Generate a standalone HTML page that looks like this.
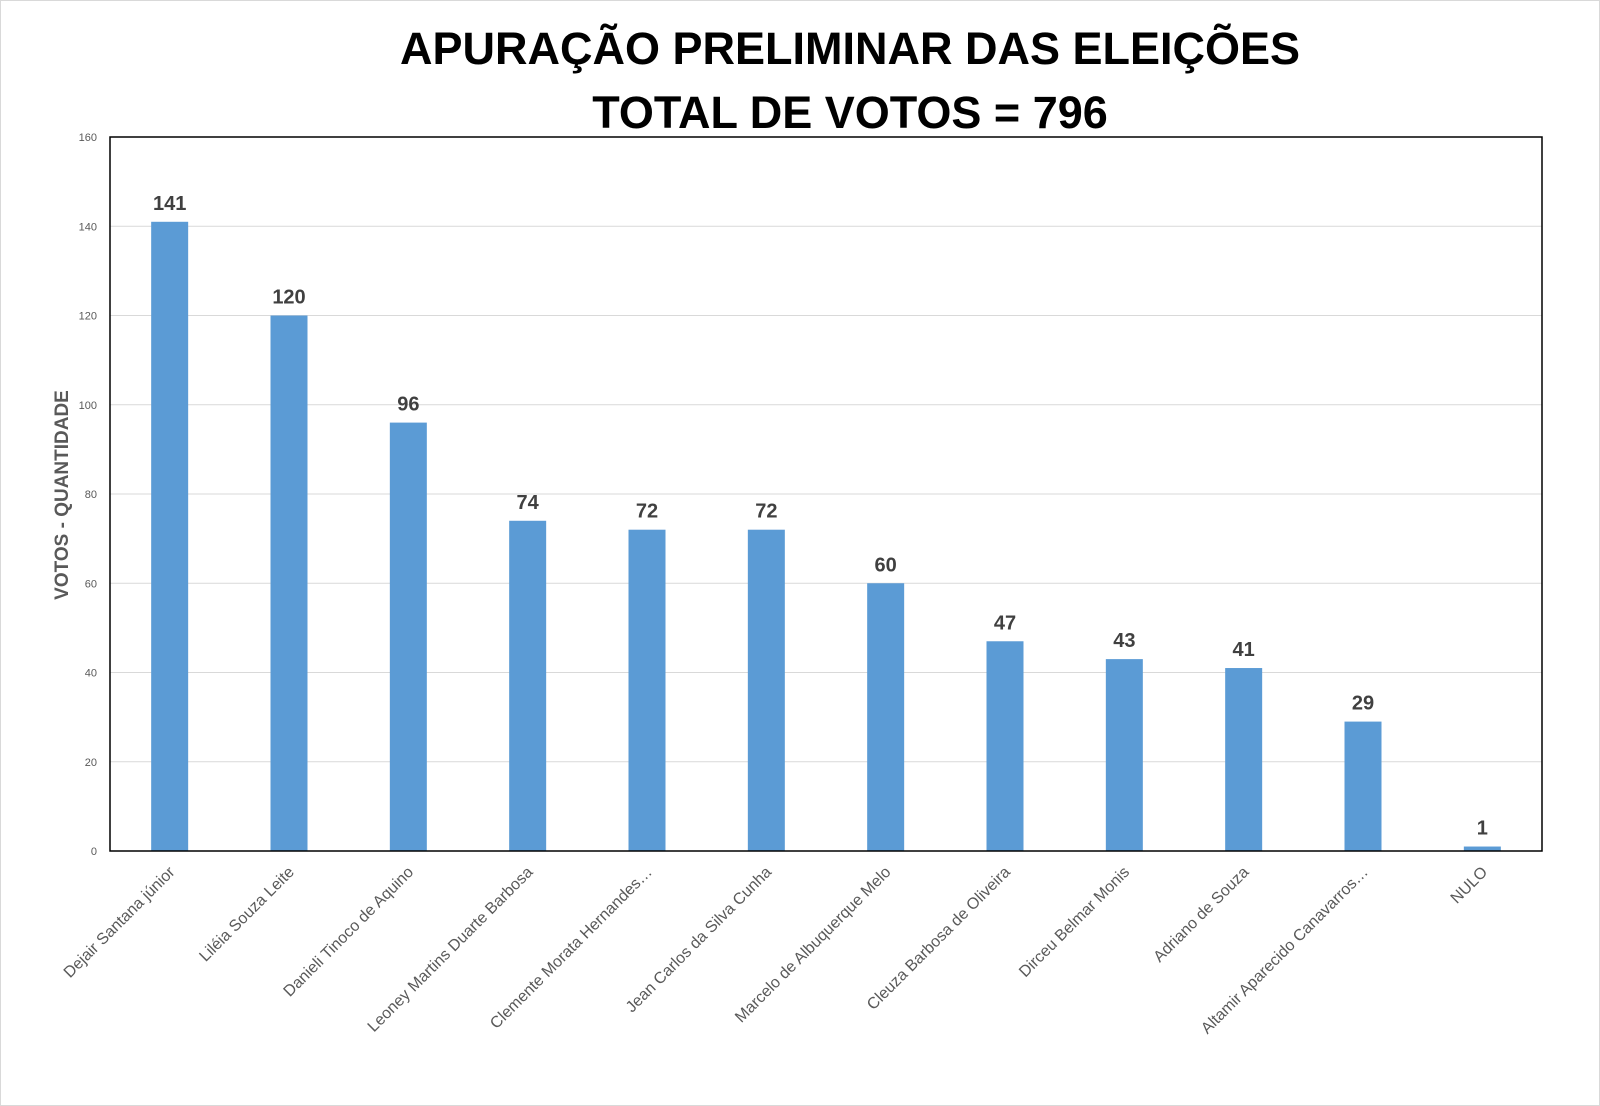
<!DOCTYPE html>
<html><head><meta charset="utf-8"><style>
body{margin:0;background:#fff;}
svg{display:block;font-family:"Liberation Sans",sans-serif;}
</style></head><body>
<svg id="c" width="1600" height="1106">
<rect x="0.5" y="0.5" width="1599" height="1105" fill="#fff" stroke="#d9d9d9"/>
<text x="850" y="64" text-anchor="middle" font-size="45" font-weight="bold" fill="#000">APURAÇÃO PRELIMINAR DAS ELEIÇÕES</text>
<text x="850" y="128" text-anchor="middle" font-size="45" font-weight="bold" fill="#000">TOTAL DE VOTOS = 796</text>
<text transform="translate(68,495) rotate(-90)" text-anchor="middle" font-size="19" font-weight="bold" fill="#595959">VOTOS - QUANTIDADE</text>
<g id="grid"></g><g id="bars"></g>
<rect x="110" y="137" width="1432" height="714" fill="none" stroke="#000" stroke-width="1.5"/>
</svg>
<script>
const categories=["Dejair Santana júnior","Liléia Souza Leite","Danieli Tinoco de Aquino","Leoney Martins Duarte Barbosa","Clemente Morata Hernandes…","Jean Carlos da Silva Cunha","Marcelo de Albuquerque Melo","Cleuza Barbosa de Oliveira","Dirceu Belmar Monis","Adriano de Souza","Altamir Aparecido Canavarros…","NULO"];
const votes=[141,120,96,74,72,72,60,47,43,41,29,1];
const yTicks=[0,20,40,60,80,100,120,140,160];
const NS="http://www.w3.org/2000/svg";
const L=110,R=1542,T=137,B=851,YMAX=160;
const y=v=>B-(v/YMAX)*(B-T);
const band=(R-L)/categories.length;
const x=i=>L+band*(i+0.5);
const g=document.getElementById('grid'),bg=document.getElementById('bars');
function mk(t,a,p){const e=document.createElementNS(NS,t);for(const k in a)e.setAttribute(k,a[k]);p.appendChild(e);return e;}
yTicks.forEach(t=>{
 const ln=mk('line',{x1:L,x2:R,y1:y(t),y2:y(t),stroke:'#d9d9d9','stroke-width':1},g);
 
 
 const tx=mk('text',{x:L-13,y:y(t)+4,'text-anchor':'end','font-size':11,fill:'#595959'},g);
 tx.textContent=t;
 
 
});
const bw=37;
votes.forEach((v,i)=>{
 const r=mk('rect',{x:x(i)-bw/2,y:y(v),width:bw,height:B-y(v),fill:'#5b9bd5'},bg);
 
 
 const t=mk('text',{x:x(i),y:y(v)-12,'text-anchor':'middle','font-size':20,'font-weight':'bold',fill:'#404040'},bg);
 t.textContent=v;
 
 
 const c=mk('text',{transform:`translate(${x(i)+6},${B+22}) rotate(-45)`,'text-anchor':'end','font-size':16,fill:'#595959'},bg);
 c.textContent=categories[i];
 
 
});
</script>
</body></html>
